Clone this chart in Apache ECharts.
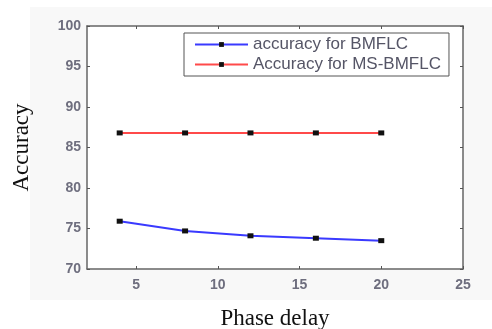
<!DOCTYPE html>
<html><head><meta charset="utf-8">
<script src="https://cdn.jsdelivr.net/npm/echarts@6/dist/echarts.min.js"></script>
<style>html,body{margin:0;padding:0;background:#fff}#c{width:492px;height:329px}</style>
</head><body><div id="c"></div>
<script>
const phaseDelay = [4, 8, 12, 16, 20];
const accBMFLC = [75.9, 74.7, 74.1, 73.8, 73.5];
const accMSBMFLC = [86.8, 86.8, 86.8, 86.8, 86.8];
const xTicks = [5, 10, 15, 20, 25];
const yTicks = [70, 75, 80, 85, 90, 95, 100];

const chart = echarts.init(document.getElementById('c'), null, {renderer: 'canvas'});
const tickLabel = {fontFamily: 'Liberation Sans, Arial', fontSize: 14, fontWeight: 'bold', color: '#6e6e7e'};
const axLine = {show: true, lineStyle: {color: '#666', width: 1.5}};
chart.setOption({
  backgroundColor: '#fff',
  animation: false,
  graphic: [{type: 'rect', shape: {x: 30, y: 7, width: 462, height: 293}, style: {fill: '#f8f8f8'}, z: -10}],
  grid: {left: 87, right: 29, top: 26, bottom: 60, show: true, backgroundColor: '#fff', borderWidth: 0, outerBoundsMode: 'none', containLabel: false},
  legend: {
    orient: 'vertical', left: 184, top: 33,
    itemWidth: 53, itemHeight: 6, itemGap: 3,
    padding: [3, 8, 3, 10],
    borderColor: '#555', borderWidth: 1, backgroundColor: '#fff',
    textStyle: {fontFamily: 'Liberation Sans, Arial', fontSize: 17, color: '#555566'},
    data: ['accuracy for BMFLC', 'Accuracy for MS-BMFLC']
  },
  xAxis: [{
    type: 'value', min: 2, max: 25, position: 'bottom',
    name: 'Phase delay', nameLocation: 'middle', nameGap: 38,
    nameTextStyle: {fontFamily: 'Liberation Serif, Times New Roman', fontSize: 23, color: '#111'},
    axisLine: axLine, splitLine: {show: false},
    axisTick: {inside: true, length: 3, customValues: xTicks, lineStyle: {color: '#555'}},
    axisLabel: Object.assign({customValues: xTicks, margin: 9}, tickLabel)
  }, {
    type: 'value', min: 2, max: 25, position: 'top',
    axisLine: axLine, splitLine: {show: false},
    axisTick: {inside: true, length: 3, customValues: xTicks, lineStyle: {color: '#555'}},
    axisLabel: {show: false}
  }],
  yAxis: [{
    type: 'value', min: 70, max: 100, interval: 5, position: 'left',
    name: 'Accuracy', nameLocation: 'middle', nameGap: 54, nameRotate: 90,
    nameTextStyle: {fontFamily: 'Liberation Serif, Times New Roman', fontSize: 23, color: '#111'},
    axisLine: axLine, splitLine: {show: false},
    axisTick: {inside: true, length: 3, lineStyle: {color: '#555'}},
    axisLabel: Object.assign({margin: 6}, tickLabel)
  }, {
    type: 'value', min: 70, max: 100, interval: 5, position: 'right',
    axisLine: axLine, splitLine: {show: false},
    axisTick: {inside: true, length: 3, lineStyle: {color: '#555'}},
    axisLabel: {show: false}
  }],
  series: [{
    name: 'accuracy for BMFLC', type: 'line',
    data: phaseDelay.map((x, i) => [x, accBMFLC[i]]),
    symbol: 'rect', symbolSize: [6, 5], showSymbol: true,
    lineStyle: {color: '#3a3aff', width: 2},
    itemStyle: {color: '#111'}
  }, {
    name: 'Accuracy for MS-BMFLC', type: 'line',
    data: phaseDelay.map((x, i) => [x, accMSBMFLC[i]]),
    symbol: 'rect', symbolSize: [6, 5], showSymbol: true,
    lineStyle: {color: '#ff4a4a', width: 2},
    itemStyle: {color: '#111'}
  }]
});
</script></body></html>
